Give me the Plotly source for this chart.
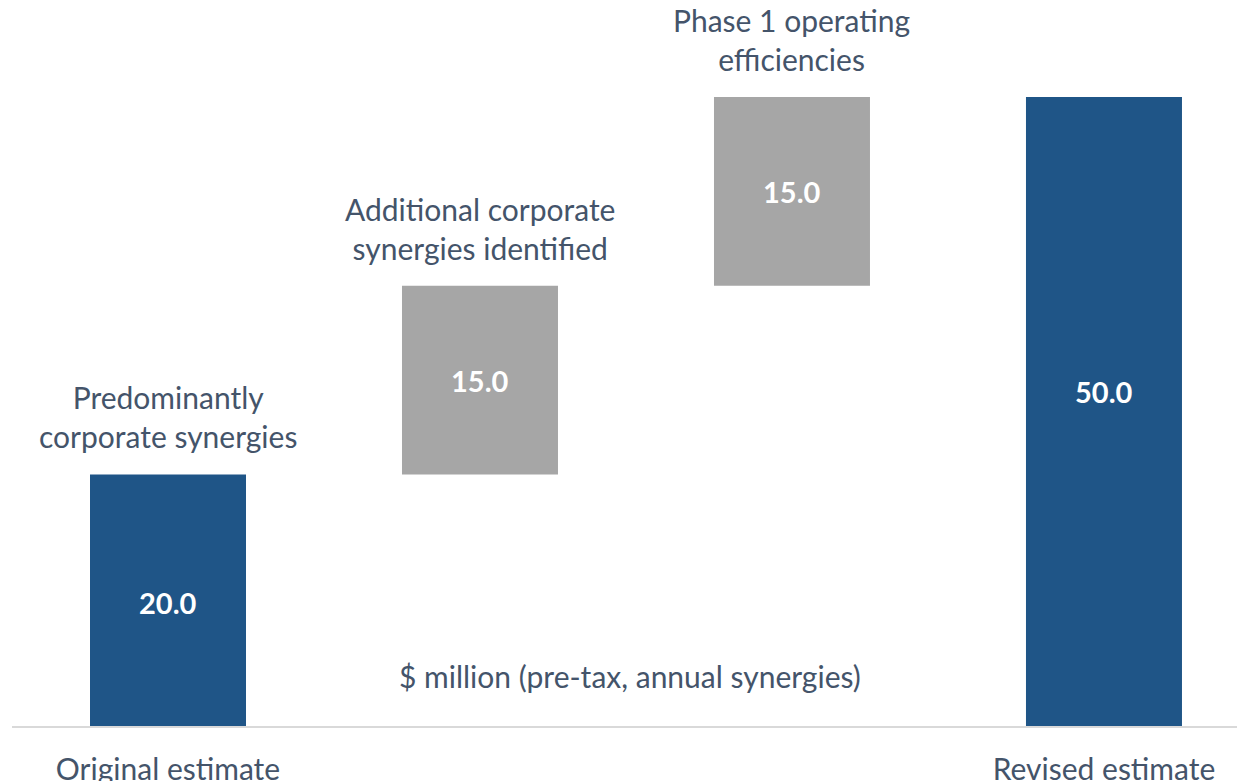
import plotly.graph_objects as go

categories = ["Original estimate", "Additional corporate synergies", "Phase 1 operating efficiencies", "Revised estimate"]
tick_labels = ["Original estimate", "", "", "Revised estimate"]
values = [20.0, 15.0, 15.0, 50.0]
measures = ["absolute", "relative", "relative", "total"]
notes = ["Predominantly<br>corporate synergies", "Additional corporate<br>synergies identified",
         "Phase 1 operating<br>efficiencies", ""]
unit_note = "$ million (pre-tax, annual synergies)"

BLUE = "#1F5587"
GRAY = "#A6A6A6"
TXT = "#44546A"
FONT = "Lato"
label_shift = [-2, 0, 0, 20]

x = list(range(len(categories)))
bases, tops, colors = [], [], []
run = 0.0
for v, m in zip(values, measures):
    if m == "absolute":
        b = 0.0; run = v; c = BLUE
    elif m == "relative":
        b = run; run += v; c = GRAY
    else:
        b = 0.0; c = BLUE
    bases.append(b); tops.append(b + v); colors.append(c)

fig = go.Figure()
fig.add_trace(go.Bar(
    x=x, y=values, base=bases, width=0.5,
    marker=dict(color=colors, line=dict(width=0)),
    hoverinfo="skip", showlegend=False,
))

for xi, b, v, s in zip(x, bases, values, label_shift):
    fig.add_annotation(x=xi, y=b + v / 2, text=f"<b>{v:.1f}</b>", showarrow=False,
                       yanchor="middle", yshift=s,
                       font=dict(family=FONT, size=29, color="white"))

for xi, top, note in zip(x, tops, notes):
    if note:
        fig.add_annotation(x=xi, y=top, text=note, showarrow=False, yanchor="bottom",
                           yshift=18, font=dict(family=FONT, size=30, color=TXT))

fig.add_annotation(x=0.501, y=0.0696, xref="paper", yref="paper", text=unit_note,
                   showarrow=False, xanchor="center", yanchor="middle",
                   font=dict(family=FONT, size=30, color=TXT))

fig.update_layout(
    width=1245, height=781,
    margin=dict(l=4, r=8, t=0, b=63, autoexpand=False),
    plot_bgcolor="white", paper_bgcolor="white",
    xaxis=dict(range=[-0.5, 3.452], tickvals=x, ticktext=tick_labels,
               showline=True, linecolor="#D9D9D9", linewidth=2,
               showgrid=False, zeroline=False, ticks="", automargin=False,
               ticklabelstandoff=16,
               tickfont=dict(family=FONT, size=30, color=TXT)),
    yaxis=dict(range=[0, 57.07], visible=False, showgrid=False, zeroline=False,
               automargin=False),
)

fig.write_html("out.html")
